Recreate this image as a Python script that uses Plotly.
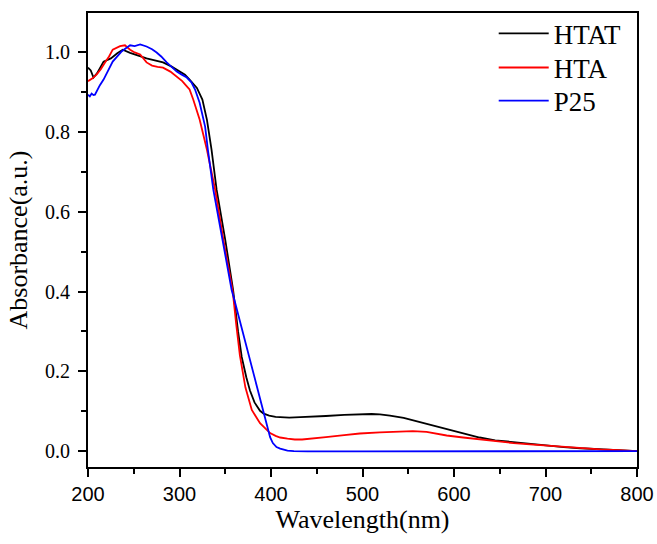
import plotly.graph_objects as go

# HTAT (black)
htat_w = [200, 203, 206, 210, 217, 225, 232, 238, 246, 255, 264, 273, 282, 291, 300, 306, 311, 315, 319, 325,
          330, 335, 340.6, 350, 358.6, 364, 368, 373, 377, 382, 388, 392, 398, 405, 412, 420, 432, 445, 460, 480, 497,
          510, 519, 530, 545, 555, 570, 592, 610, 628, 645, 665, 683, 701, 720, 738, 760, 780, 800]
htat_a = [0.962, 0.955, 0.937, 0.948, 0.977, 0.985, 0.998, 1.007, 0.999, 0.992, 0.985, 0.980, 0.975, 0.965, 0.952,
          0.944, 0.932, 0.922, 0.911, 0.882, 0.831, 0.756, 0.655, 0.530, 0.404, 0.300, 0.236, 0.185, 0.152, 0.122,
          0.101, 0.094, 0.089, 0.086, 0.085, 0.084, 0.085, 0.086, 0.088, 0.091, 0.093, 0.093, 0.092, 0.089, 0.083, 0.077,
          0.068, 0.054, 0.044, 0.034, 0.027, 0.022, 0.018, 0.014, 0.010, 0.007, 0.004, 0.002, 0.000]

# HTA (red)
hta_w = [200, 205, 209.5, 214, 218.6, 223, 227, 231, 235, 240.4, 246, 251, 257, 264, 270, 276, 282, 290, 297, 303,
         308, 311, 315, 322, 330, 339, 348, 358, 362, 366, 372, 379, 388, 394, 399, 405, 410, 418, 426, 434, 445, 460, 480,
         497, 519, 535, 555, 570, 592, 610, 628, 645, 665, 683, 701, 720, 738, 760, 780, 800]
hta_a = [0.928, 0.935, 0.945, 0.958, 0.975, 0.990, 1.007, 1.012, 1.016, 1.018, 1.007, 1.000, 0.995, 0.975, 0.967,
         0.964, 0.962, 0.952, 0.940, 0.928, 0.915, 0.907, 0.882, 0.832, 0.756, 0.655, 0.530, 0.404, 0.318, 0.240,
         0.160, 0.103, 0.070, 0.055, 0.045, 0.038, 0.034, 0.031, 0.029, 0.029, 0.031, 0.035, 0.040, 0.044, 0.047,
         0.049, 0.050, 0.048, 0.039, 0.034, 0.029, 0.025, 0.020, 0.017, 0.014, 0.010, 0.007, 0.004, 0.002, 0.000]

# P25 (blue)
p25_w = [200, 202, 204, 206, 207.6, 210, 213, 217, 222, 227, 232, 237, 241, 246, 251, 257, 264, 270, 275, 280,
         286, 291, 297, 302, 308, 313, 317, 322, 328, 331, 337, 347, 357, 361, 368, 376, 386, 392, 396, 399,
         402, 406, 410, 414, 418, 425, 440, 500, 600, 650, 700, 750, 800]
p25_a = [0.894, 0.890, 0.897, 0.893, 0.894, 0.905, 0.918, 0.932, 0.955, 0.977, 0.990, 1.003, 1.010, 1.018, 1.016,
         1.020, 1.015, 1.008, 1.000, 0.990, 0.975, 0.965, 0.952, 0.945, 0.937, 0.925, 0.907, 0.874, 0.814, 0.756,
         0.655, 0.530, 0.404, 0.370, 0.309, 0.239, 0.152, 0.100, 0.062, 0.035, 0.020, 0.010, 0.006, 0.003, 0.001,
         0.000, -0.001, -0.001, -0.001, 0.000, 0.000, 0.000, 0.000]

x_ticks = [200, 300, 400, 500, 600, 700, 800]
y_ticks = [0.0, 0.2, 0.4, 0.6, 0.8, 1.0]

series = [("HTAT", htat_w, htat_a, "#000000", "legend"),
          ("HTA", hta_w, hta_a, "#ff0000", "legend2"),
          ("P25", p25_w, p25_a, "#0000ff", "legend3")]

fig = go.Figure()
for name, w, a, c, lg in series:
    fig.add_trace(go.Scatter(x=w, y=a, mode="lines", name=name, legend=lg,
                             line=dict(color=c, width=1.8)))

serif = "Liberation Serif, Times New Roman, serif"
sans = "Liberation Sans, Arial, sans-serif"

def leg(yc):
    return dict(x=0.739, y=yc, xanchor="left", yanchor="middle",
                font=dict(family=serif, size=27, color="black"),
                bgcolor="rgba(0,0,0,0)", itemwidth=50)

fig.update_layout(
    width=657, height=544,
    margin=dict(l=88, r=20, t=13, b=77, autoexpand=False),
    paper_bgcolor="white", plot_bgcolor="white",
    showlegend=True,
    legend=leg(0.954), legend2=leg(0.879), legend3=leg(0.806),
    xaxis=dict(range=[200, 800], tickvals=x_ticks, ticktext=[str(v) for v in x_ticks],
               ticks="outside", ticklen=8, tickwidth=1.8, tickcolor="black",
               showline=True, linewidth=1.8, linecolor="black", mirror=True,
               showgrid=False, zeroline=False,
               minor=dict(dtick=50, tick0=200, ticks="outside", ticklen=5, tickwidth=1.8, tickcolor="black", showgrid=False),
               tickfont=dict(family=sans, size=20, color="black"),
               title=dict(text="Wavelength(nm)", font=dict(family=serif, size=26, color="black"), standoff=6)),
    yaxis=dict(range=[-0.04, 1.099], tickvals=y_ticks, ticktext=["%.1f" % v for v in y_ticks],
               ticks="outside", ticklen=8, tickwidth=1.8, tickcolor="black",
               showline=True, linewidth=1.8, linecolor="black", mirror=True,
               showgrid=False, zeroline=False,
               minor=dict(dtick=0.1, tick0=0, ticks="outside", ticklen=5, tickwidth=1.8, tickcolor="black", showgrid=False),
               tickfont=dict(family=serif, size=20, color="black"),
               ticklabelstandoff=4,
               title=dict(text="Absorbance(a.u.)", font=dict(family=serif, size=26, color="black"), standoff=10)),
)

fig.write_html("out.html")
